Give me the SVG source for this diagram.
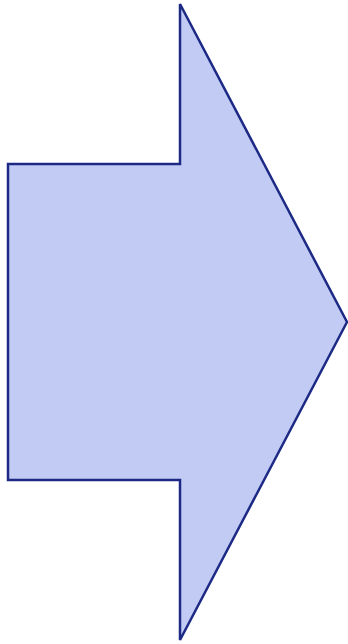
<svg xmlns="http://www.w3.org/2000/svg" width="348" height="644" viewBox="0 0 348 644">
<style>.arrow{fill:#c2cbf3;stroke:#1c2a86;stroke-width:2.5;stroke-linejoin:miter}</style>
<g id="arrow">
<path class="arrow" d="M8,164 L180,164 L180,4 L347,322 L180,640 L180,480 L8,480 Z"/>
</g>
</svg>
